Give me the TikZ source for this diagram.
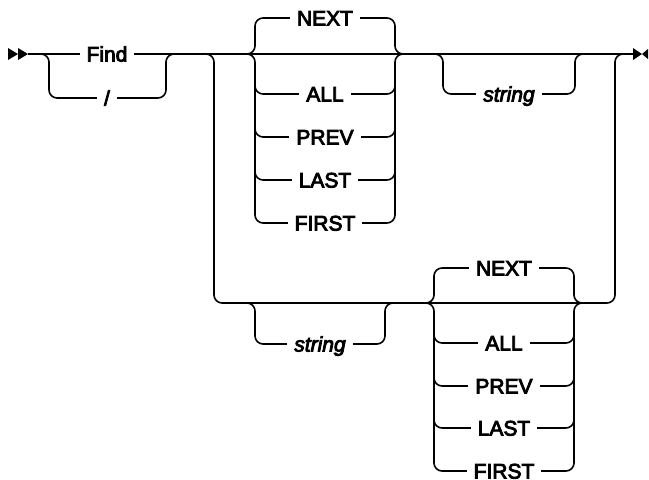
\documentclass[tikz,border=0pt]{standalone}
\usepackage{fontspec}
\setmainfont{Liberation Sans}
\newfontfamily\railfont{Liberation Sans}[FakeBold=4]
\newfontfamily\railifont{Liberation Sans Italic}[FakeBold=4]
\begin{document}
\begin{tikzpicture}[x=1pt,y=-1pt,line width=1.6pt,
  rail/.style={rounded corners=8pt},
  lbl/.style={fill=white,inner xsep=7pt,inner ysep=1pt,anchor=base,font=\railfont\fontsize{21}{21}\selectfont},
  ilbl/.style={lbl,font=\railifont\fontsize{21}{21}\selectfont},
  tip/.style={fill=black,draw=none}]
\useasboundingbox (0,0) rectangle (649,480);
% main line
\draw (28,54) -- (633,54);
% start and end symbols
\path[tip] (8,48) -- (18,54) -- (8,60) -- cycle;
\path[tip] (18,48) -- (28,54) -- (18,60) -- cycle;
\path[tip] (633,48) -- (642,54) -- (633,60) -- cycle;
\path[tip] (648,49) -- (642,54) -- (648,59) -- cycle;
% Find choice
\draw[rail] (33,54) -- (49,54) -- (49,98) -- (166,98) -- (166,54) -- (182,54);
% outer choice
\draw[rail] (200,54) -- (214,54) -- (214,303) -- (615,303) -- (615,54) -- (630,54);
% block 1
\draw[rail] (240,54) -- (255,54) -- (255,18) -- (395,18) -- (395,54) -- (410,54);
\draw[rail] (240,54) -- (255,54) -- (255,223) -- (395,223) -- (395,54) -- (410,54);
\foreach \yy in {94,137,180}{
  \draw[rail] (255,\yy-14) -- (255,\yy) -- (395,\yy) -- (395,\yy-14);
}
% upper string
\draw[rail] (425,54) -- (443,54) -- (443,94) -- (575,94) -- (575,54) -- (593,54);
% lower string
\draw[rail] (235,303) -- (255,303) -- (255,344) -- (385,344) -- (385,303) -- (405,303);
% block 2
\draw[rail] (419,303) -- (434,303) -- (434,268) -- (574,268) -- (574,303) -- (589,303);
\draw[rail] (419,303) -- (434,303) -- (434,471) -- (574,471) -- (574,303) -- (589,303);
\foreach \yy in {343,386,428}{
  \draw[rail] (434,\yy-14) -- (434,\yy) -- (574,\yy) -- (574,\yy-14);
}
% labels
\node[lbl] (find) at (107,61.5) {Find};
\node[lbl] (slash) at (107,105.5) {/};
\node[lbl] (next1) at (325,25.5) {NEXT};
\node[lbl] (all1) at (325,101.5) {ALL};
\node[lbl] (prev1) at (325,144.5) {PREV};
\node[lbl] (last1) at (325,187.5) {LAST};
\node[lbl] (first1) at (325,230.5) {FIRST};
\node[ilbl] (str1) at (509,101.5) {string};
\node[ilbl] (str2) at (320,351.5) {string};
\node[lbl] (next2) at (504,275.5) {NEXT};
\node[lbl] (all2) at (504,350.5) {ALL};
\node[lbl] (prev2) at (504,393.5) {PREV};
\node[lbl] (last2) at (504,435.5) {LAST};
\node[lbl] (first2) at (504,478.5) {FIRST};
\end{tikzpicture}
\end{document}
